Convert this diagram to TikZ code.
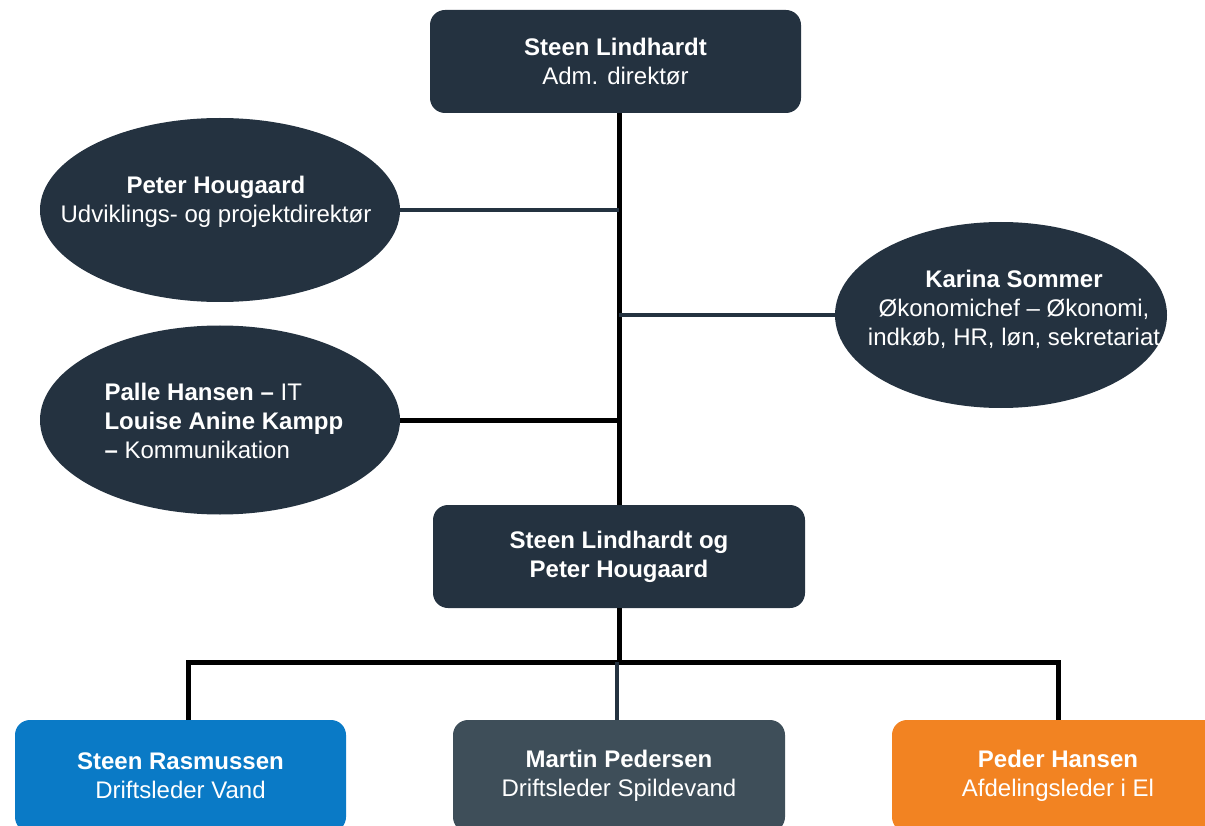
\documentclass[tikz,border=0pt]{standalone}
\usepackage{fontspec}
\setmainfont{Liberation Sans}
\usepackage{tikz}
\usetikzlibrary{shapes.geometric}
\definecolor{navy}{HTML}{243240}
\definecolor{vandblue}{HTML}{0A7AC6}
\definecolor{spildgray}{HTML}{3E4E59}
\definecolor{elorange}{HTML}{F28322}
\tikzstyle{every node}=[text=white,align=center,font=\fontsize{24}{29}\selectfont]
\tikzstyle{box}=[rectangle,rounded corners=15pt,fill=navy,minimum width=371pt,minimum height=103pt]
\tikzstyle{oval}=[ellipse,fill=navy,inner sep=0pt]
\tikzstyle{leader}=[draw=black,line width=5pt]
\tikzstyle{staff}=[draw=navy,line width=4pt]

\begin{document}
\begin{tikzpicture}[x=1pt,y=-1pt]
          \useasboundingbox (0,0) rectangle (1205,826);
          \clip (0,0) rectangle (1205,826);
          % ledelse
          \node[box] (adm) at (615.5,61.5) {\textbf{Steen Lindhardt}\\Adm. direkt{\o}r};
          \node[oval,minimum width=360pt,minimum height=184pt] (udv) at (220,210) {};
          \node (udvtxt) at (216,202) {\textbf{Peter Hougaard}\\Udviklings- og projektdirekt{\o}r};
          \node[oval,minimum width=332pt,minimum height=186pt] (oko) at (1001,315) {};
          \node (okotxt) at (1014,309) {\textbf{Karina Sommer}\\{\O}konomichef – {\O}konomi,\\indk{\o}b, HR, l{\o}n, sekretariat};
          \node[oval,minimum width=360pt,minimum height=189pt] (itk) at (220,420) {};
          \node[align=left,anchor=west] (itktxt) at (101,421) {\textbf{Palle Hansen –} IT\\\textbf{Louise Anine Kampp}\\\textbf{–} Kommunikation};
          \node[box,minimum width=372pt] (led) at (619,556.5) {\textbf{Steen Lindhardt og}\\\textbf{Peter Hougaard}};
          % drift
          \node[box,fill=vandblue,minimum width=331pt,minimum height=112pt] (vand) at (180.5,776) {\textbf{Steen Rasmussen}\\Driftsleder Vand};
          \node[box,fill=spildgray,minimum width=332pt,minimum height=112pt] (spild) at (619,776) {\textbf{Martin Pedersen}\\Driftsleder Spildevand};
          \node[box,fill=elorange,minimum width=332pt,minimum height=112pt] (el) at (1058,776) {\textbf{Peder Hansen}\\Afdelingsleder i El};
          % streger
          \draw[leader] (adm.south -| led.north) -- (led.north);
          \draw[staff] (udv.east) -- (udv.east -| led.north);
          \draw[staff] (oko.west) -- (oko.west -| led.north);
          \draw[leader] (itk.east) -- (itk.east -| led.north);
          \coordinate (fork) at (617,662);
          \draw[leader] (led.south) -- (led.south |- fork);
          \draw[leader] ([xshift=8pt]vand.north) |- (fork) -| (el.north);
          \draw[staff] (fork) -- (fork |- spild.north);
        \end{tikzpicture}
\end{document}
